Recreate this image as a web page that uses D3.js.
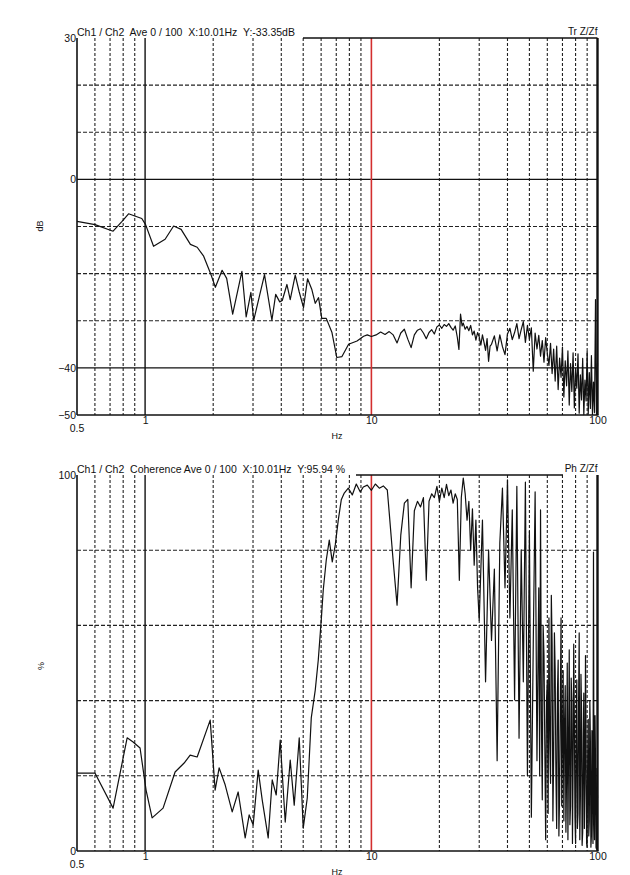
<!DOCTYPE html>
<html>
<head>
<meta charset="utf-8">
<title>Ch1 / Ch2 transfer function and coherence</title>
<script src="https://d3js.org/d3.v7.min.js"></script>
<style>
    body { margin: 0; background: #fff; }
    svg text { font-family: "Liberation Sans", Arial, sans-serif; fill: #111; }
</style>
</head>
<body>
<script>

// transfer function magnitude (Hz, dB)
var magFreq = [0.5, 0.601, 0.722, 0.791, 0.845, 0.967, 1.005, 1.09, 1.226, 1.337,
    1.443, 1.586, 1.699, 1.815, 1.945, 2.045, 2.19, 2.294, 2.439, 2.679,
    2.798, 2.936, 3.021, 3.372, 3.636, 3.779, 3.937, 4.04, 4.236, 4.381,
    4.61, 4.802, 5.016, 5.226, 5.454, 5.652, 5.846, 6.04, 6.323, 6.701,
    7.037, 7.419, 7.937, 8.646, 9.25, 9.6,
    10.01, 10.5, 11, 11.5, 12, 12.5, 13, 13.5, 14, 14.5,
    15, 15.5, 16, 16.5, 17, 17.5, 18, 18.5, 19, 19.5,
    20, 20.5, 21, 21.5, 22, 22.5, 23, 23.5, 24, 24.4,
    24.8, 25.2, 25.5, 26, 26.5, 27, 27.5, 28, 28.5, 29,
    29.5, 30, 30.5, 31, 31.5, 32, 32.5, 33, 33.5,
    34, 35, 36, 37, 38, 39, 40, 41, 42, 43,
    44, 45, 46, 47, 48, 49, 50, 51, 52, 53,
    54, 55, 56, 57, 58, 59, 60, 61, 62, 63,
    64, 65, 66, 67, 68, 69, 70, 71, 72, 73,
    74, 75, 76, 77, 78, 79, 80, 81, 82, 83,
    84, 85, 86, 87, 88, 89, 90, 91, 92, 93,
    94, 95, 96, 97, 98, 99, 100];
var magDb = [-8.9, -9.6, -11.0, -8.9, -7.3, -8.3, -9.6, -14.2, -12.7, -9.9,
    -10.6, -13.8, -14.4, -16.3, -19.9, -22.9, -19.3, -21.0, -28.6, -19.5,
    -29.2, -24.0, -29.9, -20.2, -29.9, -24.4, -26.0, -25.7, -22.3, -25.5,
    -20.3, -23.9, -27.2, -21.1, -23.3, -26.3, -25.1, -29.5, -29.5, -32.5,
    -37.8, -37.6, -35.0, -34.3, -33.3, -33.0,
    -33.35, -33.0, -32.4, -32.9, -32.3, -33.0, -34.7, -32.6, -31.8, -33.9,
    -35.7, -33.0, -32.0, -31.7, -32.6, -33.8, -32.5, -31.9, -32.8, -31.3,
    -30.9, -31.6, -30.8, -31.2, -30.6, -31.4, -32.0, -31.1, -33.5, -36.1,
    -28.6, -31.1, -30.5, -31.8, -31.2, -32.1, -31.0, -33.0, -32.2, -34.1,
    -32.5, -33.4, -35.2, -33.0, -34.6, -36.3, -33.8, -38.6, -35.4,
    -35.0, -33.2, -36.4, -33.0, -35.5, -37.2, -32.8, -31.6, -34.0, -32.5,
    -30.6, -33.8, -31.9, -30.2, -34.6, -31.0, -33.9, -31.5, -40.7, -32.6,
    -36.0, -33.1, -37.5, -34.2, -38.8, -33.6, -36.9, -39.5, -34.8, -41.2,
    -36.0, -42.8, -35.4, -44.6, -37.9, -42.0, -35.6, -46.2, -38.5, -43.8,
    -36.4, -47.9, -39.1, -45.0, -36.8, -48.5, -40.2, -44.3, -37.0, -49.6,
    -41.5, -46.8, -38.0, -49.9, -42.6, -47.0, -36.5, -49.8, -41.0, -48.6,
    -37.4, -49.9, -43.0, -49.5, -25.5, -49.9, -39.0];

// coherence (Hz, %)
var cohFreq = [0.5, 0.601, 0.722, 0.833, 0.885, 0.950, 1.010, 1.074, 1.201, 1.357,
    1.488, 1.582, 1.699, 1.940, 2.040, 2.125, 2.259, 2.427, 2.579, 2.770,
    2.885, 3.005, 3.162, 3.294, 3.501, 3.647, 3.799, 3.957, 4.164, 4.381,
    4.563, 4.802, 5.002, 5.211, 5.428, 5.652, 5.829, 6.008, 6.132, 6.323,
    6.520, 6.722, 6.930, 7.145, 7.367, 7.595, 7.911, 8.241, 8.583, 8.941,
    9.218, 9.601, 10.01, 10.42, 10.85, 11.30, 11.77,
    12, 12.5, 13, 13.5, 14, 14.5, 15, 15.5, 16, 16.5,
    17, 17.5, 18, 18.5, 19, 19.5, 20, 20.5, 21, 21.5,
    22, 22.5, 23, 23.5, 24, 24.5, 25, 25.5, 26, 26.5,
    27, 27.5, 28, 28.5, 29, 29.5,
    30, 31, 32, 33, 34, 35, 36, 37, 38, 39,
    40, 41, 42, 43, 44, 45, 46, 47, 48, 49,
    50, 51, 52, 53, 54,
    55, 55.5, 56, 56.5, 57, 57.5, 58, 58.5, 59, 59.5,
    60, 60.5, 61, 61.5, 62, 62.5, 63, 63.5, 64, 64.5,
    65, 65.5, 66, 66.5, 67, 67.5, 68, 68.5, 69, 69.5,
    70, 70.5, 71, 71.5, 72, 72.5, 73, 73.5, 74, 74.5,
    75, 75.5, 76, 76.5, 77, 77.5, 78, 78.5, 79, 79.5,
    80, 80.5, 81, 81.5, 82, 82.5, 83, 83.5, 84, 84.5,
    85, 85.5, 86, 86.5, 87, 87.5, 88, 88.5, 89, 89.5,
    90, 90.5, 91, 91.5, 92, 92.5, 93, 93.5, 94, 94.5,
    95, 95.5, 96, 96.5, 97, 97.5, 98, 98.5, 99, 99.5,
    100];
var cohPct = [20.7, 20.7, 11.4, 30.1, 29.0, 27.4, 16.2, 8.8, 11.4, 21.0,
    23.4, 25.5, 25.0, 34.8, 16.2, 22.1, 17.6, 10.4, 15.7, 3.5,
    9.6, 6.9, 21.5, 13.6, 3.5, 18.9, 14.9, 29.5, 7.7, 24.2,
    12.2, 30.1, 6.1, 14.1, 35.4, 42.8, 50.8, 61.4, 69.4, 77.4,
    82.7, 76.9, 81.4, 88.0, 93.4, 95.2, 96.5, 94.7, 97.6, 95.5,
    96.8, 97.3, 95.94, 97.6, 96.5, 97.1, 96.0,
    90.0, 77.0, 65.4, 84.0, 92.5, 93.5, 70.0, 90.5, 93.0, 91.5,
    94.0, 72.0, 93.0, 95.0, 94.0, 97.0, 93.0, 96.5, 94.0, 97.5,
    94.5, 96.0, 92.5, 95.0, 93.5, 72.0, 94.0, 99.2, 95.0, 88.0,
    93.0, 80.0, 91.0, 76.0, 88.0, 70.0,
    61.4, 88.0, 45.0, 80.0, 56.0, 75.0, 24.0, 82.0, 96.5, 70.0,
    98.7, 62.0, 90.7, 40.2, 97.0, 30.0, 80.1, 45.0, 98.1, 20.0,
    85.0, 9.0, 55.0, 95.5, 24.0,
    70.0, 20.0, 90.7, 35.0, 13.6, 60.0, 52.0, 28.0, 3.0, 40.0,
    45.5, 10.0, 62.0, 30.0, 18.0, 68.0, 55.0, 8.0, 25.0, 58.0,
    48.0, 20.0, 6.0, 42.0, 50.8, 4.0, 15.0, 38.0, 62.0, 12.0,
    30.0, 48.0, 8.0, 34.0, 44.0, 5.0, 20.0, 50.0, 3.0, 28.0,
    53.5, 7.0, 12.0, 46.0, 40.0, 2.0, 22.0, 55.0, 36.0, 9.0,
    2.0, 33.0, 45.5, 6.0, 10.0, 40.0, 58.0, 3.0, 14.0, 47.0,
    38.0, 1.5, 5.0, 30.0, 42.0, 6.0, 18.0, 52.0, 30.0, 2.0,
    1.0, 25.0, 35.0, 4.0, 8.0, 40.0, 29.5, 1.0, 4.0, 32.0,
    20.0, 2.0, 79.5, 10.0, 3.0, 36.0, 24.0, 1.0, 0.5, 22.0,
    14.0];

// grid and tick values
var minorHz = [0.6, 0.7, 0.8, 0.9, 2, 3, 4, 5, 6, 7, 8, 9, 20, 30, 40, 50, 60, 70, 80, 90];
var hzLabels = [1, 10, 100];
var magDashed = [20, 10, -10, -20, -30];
var magSolid = [0, -40];
var magTicks = [30, 0, -40, -50];
var cohDashed = [20, 40, 60, 80];
var cohTicks = [100, 0];
var cursorHz = 10.01;

var w = 630;
var h = 875;
var left = 77;
var right = 597.5;

var svg = d3.select("body")
            .append("svg")
            .attr("width", w)
            .attr("height", h);

var x = d3.scaleLog().domain([0.5, 100]).range([left, right]);

function panel(p) {
    var y = d3.scaleLinear().domain(p.domain).range([p.bottom, p.top]);
    var g = svg.append("g");

    // dashed grid
    g.selectAll(".vgrid")
        .data(minorHz)
        .enter()
        .append("line")
        .attr("x1", function(d) { return x(d); })
        .attr("x2", function(d) { return x(d); })
        .attr("y1", p.top)
        .attr("y2", p.bottom)
        .attr("stroke", "#222")
        .attr("stroke-width", 1.1)
        .attr("stroke-dasharray", "3,2");

    g.selectAll(".hgrid")
        .data(p.dashed)
        .enter()
        .append("line")
        .attr("x1", left)
        .attr("x2", right)
        .attr("y1", function(d) { return y(d); })
        .attr("y2", function(d) { return y(d); })
        .attr("stroke", "#222")
        .attr("stroke-width", 1.1)
        .attr("stroke-dasharray", "4,2");

    g.selectAll(".hsolid")
        .data(p.solid)
        .enter()
        .append("line")
        .attr("x1", left)
        .attr("x2", right)
        .attr("y1", function(d) { return y(d); })
        .attr("y2", function(d) { return y(d); })
        .attr("stroke", "#111")
        .attr("stroke-width", 1.4);

    // 1 Hz decade line
    g.append("line")
        .attr("x1", x(1)).attr("x2", x(1))
        .attr("y1", p.top).attr("y2", p.bottom)
        .attr("stroke", "#111")
        .attr("stroke-width", 1.4);

    // cursor
    g.append("line")
        .attr("x1", x(cursorHz)).attr("x2", x(cursorHz))
        .attr("y1", p.top).attr("y2", p.bottom)
        .attr("stroke", "#d32f2f")
        .attr("stroke-width", 1.6);

    // frame
    g.append("line")
        .attr("x1", left).attr("x2", left)
        .attr("y1", p.top).attr("y2", p.bottom)
        .attr("stroke", "#111").attr("stroke-width", 1.6);
    g.append("line")
        .attr("x1", left).attr("x2", right + 1)
        .attr("y1", p.bottom).attr("y2", p.bottom)
        .attr("stroke", "#111").attr("stroke-width", 1.6);
    g.append("line")
        .attr("x1", right).attr("x2", right)
        .attr("y1", p.top).attr("y2", p.bottom)
        .attr("stroke", "#111").attr("stroke-width", 2.4);
    g.append("line")
        .attr("x1", p.lineFrom).attr("x2", p.lineTo)
        .attr("y1", p.top).attr("y2", p.top)
        .attr("stroke", "#111").attr("stroke-width", 1.6);

    // trace
    var line = d3.line()
        .x(function(d, i) { return x(p.freq[i]); })
        .y(function(d) { return y(d); });
    g.append("path")
        .datum(p.vals)
        .attr("d", line)
        .attr("fill", "none")
        .attr("stroke", "#111")
        .attr("stroke-width", 1.2)
        .attr("stroke-linejoin", "round");

    // axes labels
    var ya = g.append("g")
        .attr("transform", "translate(" + left + ",0)")
        .call(d3.axisLeft(y).tickValues(p.ticks).tickSize(0).tickPadding(1));
    ya.select(".domain").remove();
    ya.selectAll("text").style("font-size", "10.5px").style("font-family", "Liberation Sans, Arial, sans-serif").attr("fill", "#111");

    var xa = g.append("g")
        .attr("transform", "translate(0," + p.bottom + ")")
        .call(d3.axisBottom(x).tickValues(hzLabels).tickFormat(d3.format("d")).tickSize(0).tickPadding(2));
    xa.select(".domain").remove();
    xa.selectAll("text").style("font-size", "10.5px").style("font-family", "Liberation Sans, Arial, sans-serif").attr("fill", "#111");

    g.append("text")
        .attr("x", x(0.5))
        .attr("y", p.bottom + 17)
        .attr("text-anchor", "middle")
        .style("font-size", "10.5px")
        .text("0.5");

    g.append("text")
        .attr("x", 337)
        .attr("y", p.bottom + 23.5)
        .attr("text-anchor", "middle")
        .style("font-size", "9px")
        .text("Hz");

    g.append("text")
        .attr("transform", "translate(" + p.labelX + "," + p.labelY + ") rotate(-90)")
        .attr("text-anchor", "middle")
        .style("font-size", "9px")
        .text(p.unit);

    // header
    g.append("text")
        .attr("x", left)
        .attr("y", p.top - 2.5)
        .style("font-size", "10.5px")
        .style("white-space", "pre")
        .text(p.title);

    g.append("text")
        .attr("x", right)
        .attr("y", p.top - 3.5)
        .attr("text-anchor", "end")
        .style("font-size", "10px")
        .text(p.tag);
}

panel({
    top: 38, bottom: 415, domain: [-50, 30],
    dashed: magDashed, solid: magSolid, ticks: magTicks,
    freq: magFreq, vals: magDb,
    lineFrom: 303, lineTo: right,
    title: "Ch1 / Ch2  Ave 0 / 100  X:10.01Hz  Y:-33.35dB",
    tag: "Tr Z/Zf", unit: "dB", labelX: 43, labelY: 226
});

panel({
    top: 475, bottom: 851, domain: [0, 100],
    dashed: cohDashed, solid: [], ticks: cohTicks,
    freq: cohFreq, vals: cohPct,
    lineFrom: 356, lineTo: 563,
    title: "Ch1 / Ch2  Coherence Ave 0 / 100  X:10.01Hz  Y:95.94 %",
    tag: "Ph Z/Zf", unit: "%", labelX: 44, labelY: 666
});

</script>
</body>
</html>
